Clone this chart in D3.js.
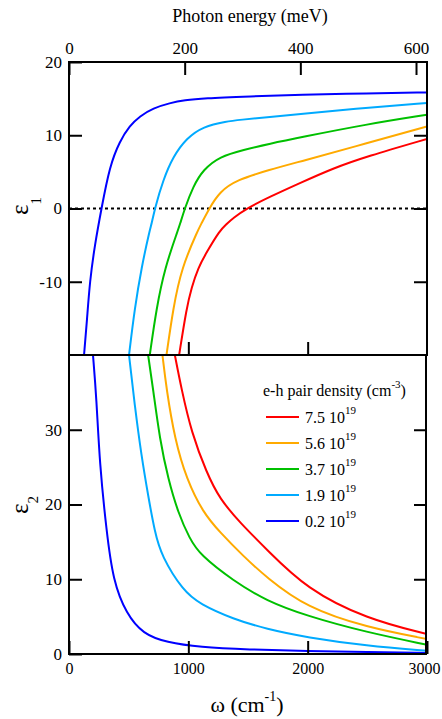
<!DOCTYPE html>
<html>
<head>
<meta charset="utf-8">
<script src="https://cdn.jsdelivr.net/npm/d3@7"></script>
<style>
body { margin: 0; background: #fff; }
svg text { font-family: "Liberation Serif", "Times New Roman", Times, "Noto Serif", "DejaVu Serif", serif; }
</style>
</head>
<body>
<div id="chart"></div>
<script>
// e-h pair density labels (x 10^19 cm^-3), legend order
var densities = ["7.5", "5.6", "3.7", "1.9", "0.2"];

// epsilon_1, [omega (cm-1), eps1]
var eps1_75 = [[923,-20],[985,-13.6],[1027,-10.8],[1082,-8.1],[1152,-6.0],[1264,-3.0],[1315,-2.2],[1376,-1.3],[1488,0],[1683,1.6],[1935,3.47],[2214,5.5],[2494,7.1],[3000,9.5]];
var eps1_56 = [[817,-20],[873,-13.6],[943,-8.1],[1082,-2.9],[1105,-2.2],[1174,0],[1264,2.3],[1404,3.9],[1683,5.3],[1935,6.4],[2494,8.9],[3000,11.2]];
var eps1_37 = [[677,-20],[733,-13.6],[803,-8.1],[914,-2.9],[929,-2.2],[970,0],[1040,3.0],[1124,5.3],[1264,7.1],[1460,8.0],[1683,8.85],[1935,9.7],[2494,11.5],[3000,12.8]];
var eps1_19 = [[503,-20],[551,-13.6],[607,-8.1],[677,-2.9],[691,-2.2],[719,0],[789,3.9],[873,7.1],[985,9.6],[1124,11.2],[1320,11.9],[1432,12.1],[1683,12.5],[1935,12.9],[2494,13.75],[3000,14.4]];
var eps1_02 = [[126,-20],[151,-15.2],[174,-10],[216,-5],[272,0],[341,5.8],[425,9.2],[509,11.3],[593,12.6],[705,13.7],[845,14.4],[970,14.8],[1124,15.05],[1517,15.3],[1935,15.55],[2500,15.7],[3000,15.85]];

// epsilon_2, [omega (cm-1), eps2]
var eps2_75 = [[887,40],[943,35.4],[1027,29.6],[1152,24.3],[1264,20.7],[1432,17.6],[1655,14.0],[1991,8.7],[2494,4.68],[3000,2.67]];
var eps2_56 = [[783,40],[817,35.4],[887,28.7],[985,23.4],[1124,18.9],[1264,16.3],[1460,13.1],[1655,10.24],[1991,6.2],[2494,3.56],[3000,2.0]];
var eps2_37 = [[663,40],[705,35.4],[761,28.7],[831,23.4],[914,18.9],[1012,15.4],[1096,13.3],[1376,9.8],[1655,7.1],[1991,5.1],[2494,2.9],[3000,1.24]];
var eps2_19 = [[503,40],[551,33.2],[607,26.5],[663,21.2],[719,16.3],[775,13.1],[956,8.46],[1096,6.68],[1376,4.68],[1655,3.34],[1991,2.22],[2494,1.1],[3000,0.44]];
var eps2_02 = [[201,40],[230,34.3],[257,25.4],[314,16.5],[369,9.8],[481,5.35],[621,2.67],[817,1.55],[1096,0.9],[1500,0.6],[2000,0.4],[2500,0.25],[3000,0.15]];

// axis ticks
var omegaTicks = [0, 1000, 2000, 3000];
var energyTicks = [0, 200, 400, 600];
var eps1Ticks = [-10, 0, 10, 20];
var eps2Ticks = [0, 10, 20, 30];

function init(){

var w = 442;
var h = 719;
var colors = ["#ff0000", "#ffaa00", "#00c000", "#00aaff", "#0000ff"];
var eps1 = [eps1_75, eps1_56, eps1_37, eps1_19, eps1_02];
var eps2 = [eps2_75, eps2_56, eps2_37, eps2_19, eps2_02];

var left = 69, right = 427, top = 62, mid = 355, bottom = 654;
var tick = 13;

var svg = d3.select("#chart")
            .append("svg")
            .attr("width", w)
            .attr("height", h);

var x = d3.scaleLinear().domain([0, 3000]).range([left, right]);
var xTop = d3.scaleLinear().domain([0, 619]).range([left, right]);
var y1 = d3.scaleLinear().domain([-20, 20]).range([mid, top]);
var y2 = d3.scaleLinear().domain([0, 40]).range([bottom, mid]);

var defs = svg.append("defs");
defs.append("clipPath").attr("id", "clip1").append("rect")
    .attr("x", left).attr("y", top).attr("width", right - left).attr("height", mid - top);
defs.append("clipPath").attr("id", "clip2").append("rect")
    .attr("x", left).attr("y", mid).attr("width", right - left).attr("height", bottom - mid);

// zero line
svg.append("line")
    .attr("x1", left).attr("x2", right)
    .attr("y1", y1(0)).attr("y2", y1(0))
    .attr("stroke", "#000")
    .attr("stroke-width", 2)
    .attr("stroke-dasharray", "3,3");

var line1 = d3.line()
    .x(function(d){ return x(d[0]); })
    .y(function(d){ return y1(d[1]); })
    .curve(d3.curveBasis);
var line2 = d3.line()
    .x(function(d){ return x(d[0]); })
    .y(function(d){ return y2(d[1]); })
    .curve(d3.curveBasis);

svg.append("g").attr("clip-path", "url(#clip1)")
    .selectAll("path")
    .data(eps1)
    .enter()
    .append("path")
    .attr("d", line1)
    .attr("fill", "none")
    .attr("stroke", function(d, i){ return colors[i]; })
    .attr("stroke-width", 2);

svg.append("g").attr("clip-path", "url(#clip2)")
    .selectAll("path")
    .data(eps2)
    .enter()
    .append("path")
    .attr("d", line2)
    .attr("fill", "none")
    .attr("stroke", function(d, i){ return colors[i]; })
    .attr("stroke-width", 2);

// axes, ticks pointing inside
var plain = function(d){ return String(d); };
function styleAxis(g, size){
    g.select(".domain").remove();
    g.selectAll(".tick line").attr("stroke", "#000").attr("stroke-width", 2);
    g.selectAll(".tick text").attr("font-size", size).attr("fill", "#000");
}

svg.append("g")
    .attr("transform", "translate(0," + top + ")")
    .call(d3.axisTop(xTop).tickValues(energyTicks).tickSize(-tick).tickPadding(8).tickFormat(plain))
    .call(styleAxis, 17);

svg.append("g")
    .attr("transform", "translate(0," + mid + ")")
    .call(d3.axisBottom(x).tickValues([1000, 2000]).tickSize(-tick).tickFormat(""))
    .call(styleAxis, 16);

var xb = svg.append("g")
    .attr("transform", "translate(0," + bottom + ")")
    .call(d3.axisBottom(x).tickValues(omegaTicks).tickSize(-tick).tickPadding(9).tickFormat(plain))
    .call(styleAxis, 16);
// last label sits against the page edge
xb.selectAll(".tick text").filter(function(d){ return d === 3000; }).attr("dx", -3);

svg.append("g")
    .attr("transform", "translate(" + left + ",0)")
    .call(d3.axisLeft(y1).tickValues(eps1Ticks).tickSize(-tick).tickPadding(7).tickFormat(plain))
    .call(styleAxis, 17);

svg.append("g")
    .attr("transform", "translate(" + left + ",0)")
    .call(d3.axisLeft(y2).tickValues(eps2Ticks).tickSize(-tick).tickPadding(7).tickFormat(plain))
    .call(styleAxis, 17);

svg.append("g")
    .attr("transform", "translate(" + right + ",0)")
    .call(d3.axisRight(y1).tickValues([-10, 0, 10]).tickSize(-tick).tickFormat(""))
    .call(styleAxis, 16);

svg.append("g")
    .attr("transform", "translate(" + right + ",0)")
    .call(d3.axisRight(y2).tickValues([10, 20, 30]).tickSize(-tick).tickFormat(""))
    .call(styleAxis, 16);

// frames
svg.append("rect")
    .attr("x", left).attr("y", top)
    .attr("width", right - left).attr("height", mid - top)
    .attr("fill", "none").attr("stroke", "#000").attr("stroke-width", 2);
svg.append("rect")
    .attr("x", left).attr("y", mid)
    .attr("width", right - left - 1).attr("height", bottom - mid)
    .attr("fill", "none").attr("stroke", "#000").attr("stroke-width", 2);

// titles
svg.append("text")
    .attr("x", 250).attr("y", 22)
    .attr("text-anchor", "middle")
    .attr("font-size", 18)
    .text("Photon energy (meV)");

var xt = svg.append("text")
    .attr("x", 247).attr("y", 712)
    .attr("text-anchor", "middle")
    .attr("font-size", 22);
xt.append("tspan").text("\u03c9 (cm");
xt.append("tspan").attr("font-size", 14).attr("dy", -11).text("-1");
xt.append("tspan").attr("dy", 11).text(")");

var yt1 = svg.append("text")
    .attr("transform", "translate(28,206) rotate(-90)")
    .attr("text-anchor", "middle")
    .attr("font-size", 25);
yt1.append("tspan").text("\u03b5");
yt1.append("tspan").attr("font-size", 15).attr("dy", 13).text("1");

var yt2 = svg.append("text")
    .attr("transform", "translate(28,505) rotate(-90)")
    .attr("text-anchor", "middle")
    .attr("font-size", 25);
yt2.append("tspan").text("\u03b5");
yt2.append("tspan").attr("font-size", 15).attr("dy", 10).text("2");

// legend
var lt = svg.append("text")
    .attr("x", 263).attr("y", 396)
    .attr("font-size", 16);
lt.append("tspan").text("e-h pair density (cm");
lt.append("tspan").attr("font-size", 11).attr("dy", -8).text("-3");
lt.append("tspan").attr("dy", 8).text(")");

var leg = svg.selectAll(".leg")
    .data(densities)
    .enter()
    .append("g")
    .attr("class", "leg")
    .attr("transform", function(d, i){ return "translate(266," + (417 + i * 26) + ")"; });

leg.append("line")
    .attr("x1", 0).attr("x2", 33)
    .attr("stroke", function(d, i){ return colors[i]; })
    .attr("stroke-width", 2);

var lbl = leg.append("text")
    .attr("x", 39).attr("y", 6)
    .attr("font-size", 16);
lbl.append("tspan").text(function(d){ return d + " 10"; });
lbl.append("tspan").attr("font-size", 11).attr("dy", -9).text("19");

}

window.onload = init;
</script>
</body>
</html>
